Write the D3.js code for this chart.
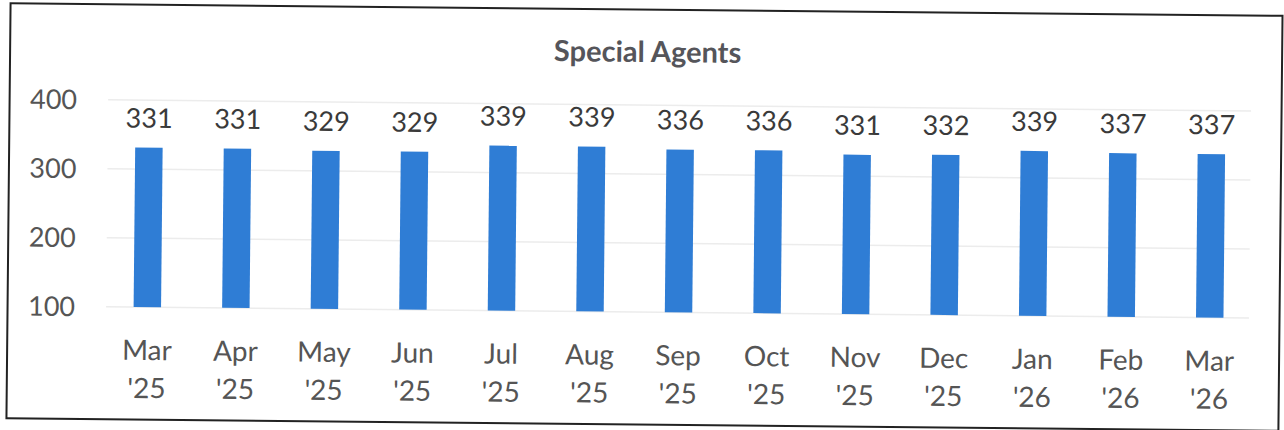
<!DOCTYPE html>
<html>
<head>
<meta charset="utf-8">
<script src="https://cdn.jsdelivr.net/npm/d3@7"></script>
<style>
  body { margin: 0; background: #fff; }
  #container { width: 1284px; height: 430px; }
  text { font-family: Lato, "Open Sans", sans-serif; }
</style>
</head>
<body>
<div id="container"></div>
<script>
// month labels, two lines each
const months = ["Mar", "Apr", "May", "Jun", "Jul", "Aug", "Sep", "Oct", "Nov", "Dec", "Jan", "Feb", "Mar"];
const years = ["'25", "'25", "'25", "'25", "'25", "'25", "'25", "'25", "'25", "'25", "'26", "'26", "'26"];
const agents = [331, 331, 329, 329, 339, 339, 336, 336, 331, 332, 339, 337, 337];
const yTicks = [100, 200, 300, 400];

const width = 1284, height = 430;
const margin = { top: 105, right: 29, bottom: 118, left: 104 };

const svg = d3.select("#container").append("svg")
              .attr("width", width)
              .attr("height", height);

// the reference is a slightly tilted scan
const page = svg.append("g").attr("transform", "rotate(0.57," + width/2 + "," + height/2 + ")");

page.append("rect")
    .attr("x", 8.5).attr("y", 9.5)
    .attr("width", 1272).attr("height", 415)
    .attr("fill", "white")
    .attr("stroke", "#222")
    .attr("stroke-width", 2);

page.append("text")
    .attr("x", 646).attr("y", 62)
    .attr("text-anchor", "middle")
    .style("font-size", "29px")
    .style("font-weight", "bold")
    .style("fill", "#55555a")
    .text("Special Agents");

const keys = d3.range(agents.length);
const xScale = d3.scaleBand().domain(keys)
                 .range([margin.left, width - margin.right])
                 .paddingInner(0.69).paddingOuter(0.345);
const yScale = d3.scaleLinear().domain([100, 400])
                 .range([height - margin.bottom, margin.top]);

// gridlines
page.append("g").selectAll("line")
    .data(yTicks)
    .join("line")
    .attr("x1", margin.left + 3)
    .attr("x2", width - margin.right - 5)
    .attr("y1", d => yScale(d))
    .attr("y2", d => yScale(d))
    .attr("stroke", "#ececec")
    .attr("stroke-width", 1.5);

// y axis labels
page.append("g").selectAll("text")
    .data(yTicks)
    .join("text")
    .attr("x", 76)
    .attr("y", d => yScale(d))
    .attr("dy", "0.36em")
    .attr("text-anchor", "end")
    .style("font-size", "27px")
    .style("fill", "#555")
    .text(d => d);

// bars
page.append("g").selectAll("rect")
    .data(agents)
    .join("rect")
    .attr("x", (d, i) => xScale(i))
    .attr("width", xScale.bandwidth())
    .attr("y", d => yScale(d))
    .attr("height", d => yScale(100) - yScale(d))
    .attr("fill", "#2f7dd5");

// value labels
page.append("g").selectAll("text")
    .data(agents)
    .join("text")
    .attr("x", (d, i) => xScale(i) + xScale.bandwidth()/2)
    .attr("y", d => yScale(d) - 20)
    .attr("text-anchor", "middle")
    .style("font-size", "27px")
    .style("fill", "#3a3a3a")
    .text(d => d);

// x labels
const xLabels = page.append("g").selectAll("text")
    .data(keys)
    .join("text")
    .attr("text-anchor", "middle")
    .style("font-size", "28px")
    .style("fill", "#555");
xLabels.append("tspan")
       .attr("x", i => xScale(i) + xScale.bandwidth()/2)
       .attr("y", 365)
       .text(i => months[i]);
xLabels.append("tspan")
       .attr("x", i => xScale(i) + xScale.bandwidth()/2)
       .attr("y", 403)
       .text(i => years[i]);
</script>
</body>
</html>
